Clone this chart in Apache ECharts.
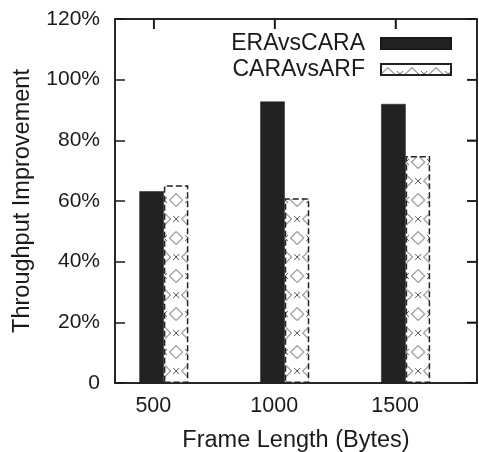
<!DOCTYPE html>
<html>
<head>
<meta charset="utf-8">
<script src="https://cdn.jsdelivr.net/npm/echarts@6/dist/echarts.min.js"></script>
<style>html,body{margin:0;padding:0;background:#fff;}#c{width:479px;height:452px;}</style>
</head>
<body>
<div id="c"></div>
<script>
const frameLengths = [500, 1000, 1500];
const eraVsCara = [63.2, 92.8, 92.0];
const caraVsArf = [65.2, 60.9, 74.8];
const seriesNames = ['ERAvsCARA', 'CARAvsARF'];
const yTickValues = [0, 20, 40, 60, 80, 100, 120];
const yMax = 120, yStep = 20;
const labelAxisMin = 340, labelAxisMax = 1837;

// hatch pattern tile (diamonds and crosses)
function makeTile() {
  const c = document.createElement('canvas');
  c.width = 24; c.height = 38;
  const g = c.getContext('2d');
  g.fillStyle = '#fff'; g.fillRect(0, 0, 24, 38);
  g.strokeStyle = '#555'; g.lineWidth = 1;
  function diamond(cx, cy) {
    g.beginPath();
    g.moveTo(cx, cy - 6.5); g.lineTo(cx + 6.5, cy); g.lineTo(cx, cy + 6.5); g.lineTo(cx - 6.5, cy); g.closePath();
    g.stroke();
  }
  function cross(cx, cy) {
    g.beginPath();
    g.moveTo(cx - 3, cy - 3); g.lineTo(cx + 3, cy + 3);
    g.moveTo(cx + 3, cy - 3); g.lineTo(cx - 3, cy + 3);
    g.stroke();
  }
  diamond(12, 10); diamond(12, 48); diamond(12, -28);
  diamond(0, 29); diamond(24, 29); diamond(0, -9); diamond(24, -9);
  cross(12, 29); cross(0, 10); cross(24, 10); cross(0, 48); cross(24, 48);
  return c;
}
const hatch = { image: makeTile(), repeat: 'repeat', x: 18.8, y: 0, scaleX: 1.00833, scaleY: 1 };

const font = '"Liberation Sans", Arial, Helvetica, sans-serif';
const ink = '#1a1a1a';
function frameLine() { return { show: true, onZero: false, lineStyle: { color: ink, width: 1.5 } }; }
function tickIn(vals) {
  const t = { show: true, inside: true, length: 10, lineStyle: { color: ink, width: 1.5 } };
  if (vals) t.customValues = vals.slice();
  return t;
}
function ghostLabel(vals) {
  const l = { show: true, color: 'rgba(0,0,0,0)', fontSize: 8, margin: 4 };
  if (vals) l.customValues = vals.slice();
  return l;
}

// mirrored tick marks on the top and right frame edges: [x, y, side(0=top,1=right)]
const mirrorTicks = frameLengths.map(x => [x, yMax, 0])
  .concat(yTickValues.map(v => [labelAxisMin, v, 1]));

const chart = echarts.init(document.getElementById('c'), null, { renderer: 'canvas' });
chart.setOption({
  backgroundColor: '#fff',
  animation: false,
  textStyle: { fontFamily: font, color: ink },
  grid: { left: 115, right: 2, top: 19, bottom: 69, outerBoundsMode: 'none',
    show: true, borderColor: ink, borderWidth: 1.5, backgroundColor: 'rgba(0,0,0,0)' },
  legend: {
    orient: 'vertical', align: 'right', right: 27, top: 32, padding: 0,
    itemWidth: 70, itemHeight: 11, itemGap: 3, icon: 'rect',
    textStyle: { fontSize: 23, fontFamily: font, color: ink, lineHeight: 22, padding: [0, 11, 0, 0] },
    data: seriesNames
  },
  xAxis: [
    {
      type: 'value', position: 'bottom', min: 298, max: 1795,
      name: 'Frame Length (Bytes)', nameLocation: 'middle', nameGap: 46,
      nameTextStyle: { fontSize: 23.5, fontFamily: font, color: ink },
      axisLine: frameLine(),
      axisTick: { show: false },
      axisLabel: { fontSize: 21.5, fontFamily: font, color: ink, margin: 12, customValues: frameLengths.slice(),
        padding: [0, 21, 0, 0], formatter: v => String(v) },
      splitLine: { show: false }
    },
    {
      type: 'value', position: 'top', min: labelAxisMin, max: labelAxisMax,
      axisLine: frameLine(),
      axisTick: tickIn(frameLengths),
      axisLabel: ghostLabel(frameLengths),
      splitLine: { show: false }
    }
  ],
  yAxis: [
    {
      type: 'value', position: 'left', min: 0, max: yMax, interval: yStep,
      name: 'Throughput Improvement', nameLocation: 'middle', nameGap: 80, nameRotate: 90,
      nameTextStyle: { fontSize: 23.5, fontFamily: font, color: ink },
      axisLine: frameLine(),
      axisTick: tickIn(),
      axisLabel: { fontSize: 21, fontFamily: font, color: ink, margin: 15,
        formatter: v => v === 0 ? '0' : v + '%' },
      splitLine: { show: false }
    },
    {
      type: 'value', position: 'right', min: 0, max: yMax, interval: yStep,
      axisLine: frameLine(),
      axisTick: tickIn(),
      axisLabel: ghostLabel(),
      splitLine: { show: false }
    }
  ],
  series: [
    {
      name: seriesNames[0], type: 'bar', xAxisIndex: 0, yAxisIndex: 0,
      barWidth: 24.5, barGap: '0%',
      itemStyle: { color: '#222', borderColor: '#1a1a1a', borderWidth: 0.5 },
      data: frameLengths.map((x, i) => [x, eraVsCara[i]])
    },
    {
      name: seriesNames[1], type: 'bar', xAxisIndex: 0, yAxisIndex: 0,
      barWidth: 24.5, barGap: '0%',
      itemStyle: { color: hatch, borderColor: '#222', borderWidth: 1.5, borderType: [6, 3] },
      data: frameLengths.map((x, i) => [x, caraVsArf[i]])
    },
    {
      name: 'frameTicks', type: 'custom', xAxisIndex: 1, yAxisIndex: 0,
      silent: true, clip: false, z: 3,
      encode: { x: 0, y: 1 },
      renderItem: function (params, api) {
        const side = api.value(2);
        const p = api.coord([api.value(0), api.value(1)]);
        const cs = params.coordSys;
        if (side === 0) {
          return { type: 'line', shape: { x1: p[0], y1: cs.y, x2: p[0], y2: cs.y + 10 },
            style: { stroke: ink, lineWidth: 1.5 } };
        }
        const xr = cs.x + cs.width;
        return { type: 'line', shape: { x1: xr, y1: p[1], x2: xr - 10, y2: p[1] },
          style: { stroke: ink, lineWidth: 1.5 } };
      },
      data: mirrorTicks
    }
  ]
});
</script>
</body>
</html>
